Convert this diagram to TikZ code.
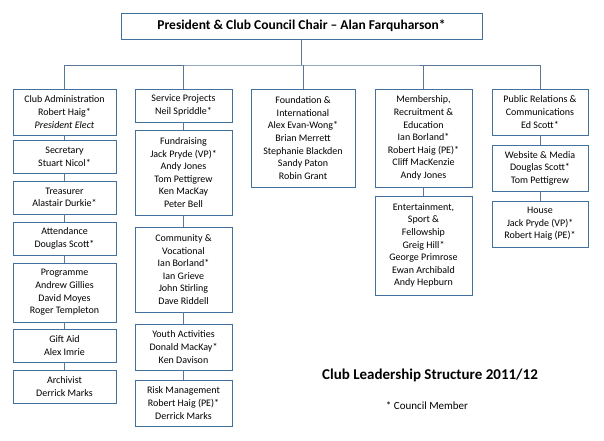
\documentclass[tikz,border=0pt]{standalone}
\usepackage{fontspec}
\setmainfont{Carlito}
\definecolor{boxc}{RGB}{65,113,156}
\definecolor{linec}{RGB}{90,120,150}
\newcommand{\bx}[6]{\node[bx,minimum width={#4-#2},minimum height={#5-#3}] (#1) at ({(#2+#4)/2},{(#3+#5)/2}) {#6};}
\begin{document}
\begin{tikzpicture}[x=1pt,y=-1pt,
 bx/.style={draw=boxc,line width=0.8pt,align=center,inner sep=0pt,font=\fontsize{10}{12.6}\selectfont},
 ln/.style={draw=linec,line width=0.8pt}]
\useasboundingbox (0,0) rectangle (604,440);
\node[bx,minimum width=361,minimum height=26,font=\fontsize{13.5}{15}\selectfont\bfseries] (top) at (301.5,26) {President \& Club Council Chair -- Alan Farquharson*};
\coordinate (j) at (301.5,65);
\bx{a1}{13}{89}{116}{135}{Club Administration\\Robert Haig*\\\textit{President Elect}}
\bx{a2}{13}{140}{116}{173}{Secretary\\Stuart Nicol*}
\bx{a3}{13}{181}{116}{214}{Treasurer\\Alastair Durkie*}
\bx{a4}{13}{222}{116}{255}{Attendance\\Douglas Scott*}
\bx{a5}{13}{263}{116}{322}{Programme\\Andrew Gillies\\David Moyes\\Roger Templeton}
\bx{a6}{13}{329}{116}{362}{Gift Aid\\Alex Imrie}
\bx{a7}{13}{370}{116}{403}{Archivist\\Derrick Marks}
\bx{b1}{135}{89}{232}{122}{Service Projects\\Neil Spriddle*}
\bx{b2}{135}{130}{232}{215}{Fundraising\\Jack Pryde (VP)*\\Andy Jones\\Tom Pettigrew\\Ken MacKay\\Peter Bell}
\bx{b3}{135}{227}{232}{312}{Community \&\\Vocational\\Ian Borland*\\Ian Grieve\\John Stirling\\Dave Riddell}
\bx{b4}{135}{324}{232}{370}{Youth Activities\\Donald MacKay*\\Ken Davison}
\bx{b5}{135}{380}{232}{426}{Risk Management\\Robert Haig (PE)*\\Derrick Marks}
\bx{c1}{251}{89}{355}{187}{Foundation \&\\International\\Alex Evan-Wong*\\Brian Merrett\\Stephanie Blackden\\Sandy Paton\\Robin Grant}
\bx{d1}{375}{89}{472}{187}{Membership,\\Recruitment \&\\Education\\Ian Borland*\\Robert Haig (PE)*\\Cliff MacKenzie\\Andy Jones}
\bx{d2}{375}{196}{472}{295}{Entertainment,\\Sport \&\\Fellowship\\Greig Hill*\\George Primrose\\Ewan Archibald\\Andy Hepburn}
\bx{e1}{492}{89}{588}{135}{Public Relations \&\\Communications\\Ed Scott*}
\bx{e2}{492}{145}{588}{191}{Website \& Media\\Douglas Scott*\\Tom Pettigrew}
\bx{e3}{492}{201}{588}{247}{House\\Jack Pryde (VP)*\\Robert Haig (PE)*}
\draw[ln] (top.south) -- (j);
\draw[ln] (a1.north) |- (j) -| (e1.north);
\foreach \n in {b1,c1,d1} \draw[ln] (\n.north) -- (\n.north |- j);
\foreach \u/\v in {a1/a2,a2/a3,a3/a4,a4/a5,a5/a6,a6/a7,b1/b2,b2/b3,b3/b4,b4/b5,d1/d2,e1/e2,e2/e3}
 \draw[ln] (\u.south) -- (\v.north);
\node[font=\fontsize{15}{17}\selectfont\bfseries] (title) at (430,375) {Club Leadership Structure 2011/12};
\node[font=\fontsize{11}{13}\selectfont] (note) at (427,406) {* Council Member};
\end{tikzpicture}
\end{document}
